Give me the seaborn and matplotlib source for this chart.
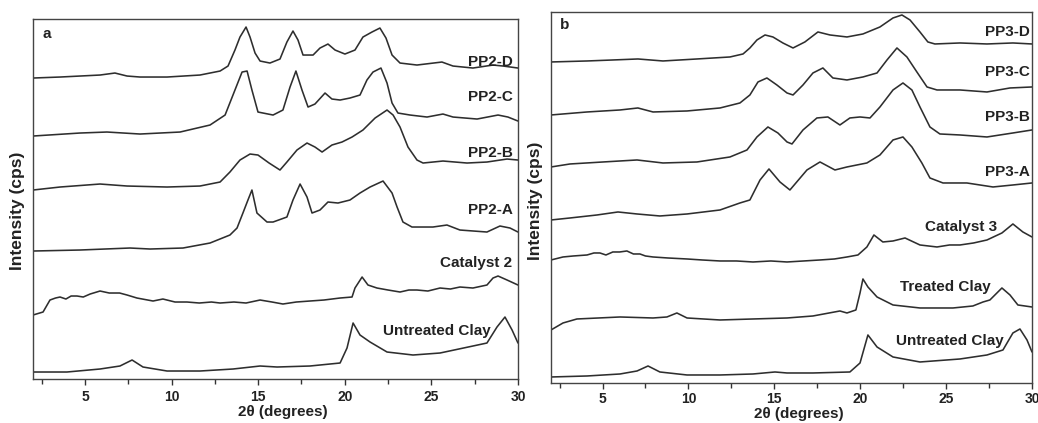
import matplotlib
matplotlib.use("Agg")
import matplotlib.pyplot as plt
import seaborn as sns
from matplotlib.ticker import MultipleLocator

# --- panel a: PP2 series (2theta in degrees, stacked intensity in arbitrary units) ---
pp2d_x = [2.0, 3.56, 5.87, 6.73, 7.43, 8.18, 9.74, 11.64, 12.8, 13.26, 13.66, 13.95, 14.3, 14.53,
          14.82, 15.11, 15.68, 16.26, 16.66, 17.01, 17.3, 17.59, 18.17, 18.57, 19.03, 19.44, 20.01,
          20.59, 21.05, 21.57, 22.03, 22.38, 22.73, 23.19, 24.17, 25.61, 26.25, 27.4, 28.56, 29.14, 30.0]
pp2d_y = [301, 302, 304, 306, 303, 302, 302, 304, 308, 313, 329, 342, 352, 342,
          326, 318, 316, 320, 337, 348, 339, 324, 324, 331, 335, 329, 325,
          329, 342, 347, 351, 341, 324, 316, 314, 317, 313, 311, 314, 313, 311]

pp2c_x = [2.0, 4.71, 6.27, 8.18, 10.49, 12.22, 13.09, 13.66, 14.07, 14.36, 14.64, 14.99, 15.86,
          16.43, 16.84, 17.18, 17.53, 17.88, 18.28, 18.86, 19.26, 19.73, 20.3, 20.88, 21.28, 21.63,
          22.09, 22.44, 22.73, 23.07, 23.77, 24.75, 25.67, 26.25, 27.64, 28.85, 29.42, 30.0]
pp2c_y = [243, 246, 247, 245, 247, 254, 264, 289, 307, 308, 289, 267, 264,
          269, 292, 308, 289, 272, 275, 286, 280, 279, 281, 284, 299, 307,
          311, 296, 276, 266, 264, 262, 265, 262, 260, 264, 262, 258]

pp2b_x = [2.0, 3.56, 5.87, 7.43, 9.74, 11.64, 12.8, 13.37, 13.95, 14.53, 14.99, 15.63, 16.26,
          16.66, 17.24, 17.82, 18.28, 18.69, 19.26, 19.84, 20.42, 21.05, 21.75, 22.44, 22.79,
          23.19, 23.65, 24.17, 24.52, 25.67, 27.06, 28.21, 29.37, 30.0]
pp2b_y = [189, 192, 195, 193, 192, 193, 197, 207, 219, 225, 224, 216, 209,
          217, 229, 236, 232, 227, 234, 237, 242, 249, 261, 269, 264,
          252, 232, 219, 216, 218, 216, 217, 220, 219]

pp2a_x = [2.0, 4.71, 7.6, 8.76, 10.66, 12.22, 13.37, 13.78, 14.12, 14.41, 14.64, 14.93, 15.51,
          15.86, 16.66, 17.01, 17.42, 17.82, 18.11, 18.57, 19.03, 19.61, 20.3, 20.88, 21.46,
          22.21, 22.73, 23.02, 23.36, 23.88, 25.09, 25.9, 26.65, 28.21, 28.96, 29.54, 30.0]
pp2a_y = [128, 129, 131, 130, 131, 136, 144, 151, 166, 179, 189, 166, 157,
          157, 162, 179, 195, 182, 166, 169, 177, 176, 179, 186, 192,
          198, 186, 172, 157, 152, 152, 154, 149, 147, 153, 151, 147]

cat2_x = [2.0, 2.58, 2.98, 3.3, 3.56, 3.9, 4.2, 4.54, 4.9, 5.3, 5.87, 6.4, 7.0, 7.43, 8.0, 8.93,
          9.5, 10.2, 10.89, 11.6, 12.3, 12.8, 13.6, 14.3, 15.11, 15.8, 16.43, 17.2, 17.99, 18.8,
          19.73, 20.42, 20.59, 21.0, 21.34, 21.86, 22.5, 23.19, 23.7, 24.17, 24.8, 25.5, 26.1,
          26.65, 27.4, 28.21, 28.56, 28.85, 29.37, 30.0]
cat2_y = [64, 67, 79, 81, 82, 80, 83, 83, 82, 85, 88, 86, 86, 84, 81, 78,
          80, 77, 77, 76, 77, 76, 77, 76, 79, 77, 75, 77, 78, 79,
          81, 82, 91, 102, 94, 91, 89, 87, 89, 89, 88, 91, 90,
          92, 91, 94, 101, 103, 99, 94]

clay_a_x = [2.0, 3.96, 5.87, 7.02, 7.72, 8.35, 9.74, 11.64, 13.55, 15.11, 16.09, 17.99, 19.73,
            20.13, 20.48, 20.88, 21.46, 22.44, 23.94, 25.5, 27.4, 28.21, 28.79, 29.25, 29.66, 30.0]
clay_a_y = [7, 7, 10, 13, 19, 12, 8, 8, 10, 13, 12, 13, 16,
            31, 56, 44, 37, 27, 24, 26, 33, 36, 52, 62, 49, 36]

# --- panel b: PP3 series ---
pp3d_x = [2.0, 4.1, 5.61, 7.06, 8.52, 10.5, 12.42, 13.18, 13.58, 13.99, 14.46, 14.92, 15.5,
          16.09, 16.78, 17.54, 18.24, 19.23, 20.16, 21.15, 21.91, 22.43, 22.9, 23.48, 23.94,
          24.35, 25.81, 27.38, 28.89, 30.0]
pp3d_y = [321, 322, 323, 324, 322, 324, 326, 329, 335, 343, 348, 346, 340,
          335, 341, 351, 348, 346, 349, 356, 365, 368, 363, 351, 341,
          339, 340, 339, 340, 339]

pp3c_x = [2.0, 4.1, 6.02, 7.06, 7.94, 9.92, 11.84, 13.0, 13.58, 14.05, 14.57, 15.15, 15.74,
          16.09, 16.67, 17.25, 17.83, 18.41, 19.23, 20.16, 20.98, 21.56, 22.14, 22.72, 23.3,
          23.89, 24.47, 25.81, 27.38, 28.72, 30.0]
pp3c_y = [268, 271, 273, 275, 271, 272, 275, 280, 288, 301, 305, 298, 290,
          288, 298, 310, 315, 305, 303, 306, 310, 323, 335, 326, 311,
          296, 293, 293, 291, 295, 296]

pp3b_x = [2.0, 3.11, 5.03, 7.01, 8.52, 10.5, 12.42, 13.41, 13.99, 14.63, 15.21, 15.74, 16.03,
          16.67, 17.48, 18.12, 18.82, 19.4, 19.99, 20.57, 21.15, 21.91, 22.49, 23.01, 23.48,
          24.06, 24.64, 25.81, 27.38, 28.89, 30.0]
pp3b_y = [216, 219, 221, 223, 220, 221, 226, 233, 246, 256, 250, 241, 239,
          253, 265, 266, 258, 265, 266, 265, 276, 293, 300, 293, 276,
          256, 249, 248, 246, 250, 253]

pp3a_x = [2.0, 3.11, 4.68, 5.9, 7.01, 8.34, 9.92, 11.84, 13.0, 13.58, 14.17, 14.69, 15.33,
          15.91, 16.9, 17.66, 18.53, 19.23, 20.39, 21.15, 21.91, 22.49, 23.01, 23.59, 24.06,
          24.82, 26.21, 27.73, 28.89, 30.0]
pp3a_y = [163, 165, 168, 171, 169, 167, 169, 173, 180, 183, 203, 214, 201,
          193, 213, 221, 213, 216, 220, 228, 243, 246, 236, 220, 205,
          200, 200, 196, 198, 200]

cat3_x = [2.0, 2.7, 3.3, 4.1, 4.5, 4.85, 5.2, 5.6, 6.0, 6.42, 6.8, 7.18, 7.5, 7.94, 8.8, 9.92,
          10.8, 11.84, 12.8, 13.76, 14.8, 15.74, 16.7, 17.66, 18.5, 19.23, 19.87, 20.39, 20.8,
          21.32, 21.91, 22.61, 23.48, 24.47, 25.2, 25.81, 26.6, 27.38, 28.25, 28.89, 29.47, 30.0]
cat3_y = [123, 126, 127, 128, 130, 130, 128, 131, 131, 132, 129, 129, 127, 126, 125, 124,
          123, 122, 122, 121, 122, 121, 122, 123, 124, 126, 128, 136, 148,
          141, 142, 145, 138, 136, 138, 138, 140, 143, 150, 159, 151, 146]

treated_x = [2.0, 2.7, 3.51, 6.02, 7.94, 8.75, 9.33, 9.92, 11.84, 13.76, 15.74, 17.25, 18.82,
             19.23, 19.75, 19.99, 20.16, 20.45, 20.98, 21.91, 23.48, 25.4, 26.56, 27.15, 27.55,
             28.25, 28.72, 29.18, 30.0]
treated_y = [53, 60, 64, 66, 65, 66, 70, 65, 63, 64, 65, 67, 72,
             70, 73, 90, 104, 96, 86, 78, 75, 75, 77, 81, 83,
             95, 88, 78, 76]

clay_b_x = [2.0, 4.1, 6.02, 7.01, 7.65, 8.34, 9.92, 11.84, 13.76, 15.04, 15.74, 17.25, 19.4,
            19.99, 20.45, 20.98, 21.91, 23.48, 25.81, 27.38, 28.31, 28.89, 29.3, 29.71, 30.0]
clay_b_y = [6, 7, 9, 12, 17, 11, 8, 8, 9, 11, 10, 10, 11,
            20, 48, 36, 26, 21, 24, 28, 33, 50, 54, 43, 31]

xticks = [5, 10, 15, 20, 25, 30]

sns.set_theme(style="ticks")
plt.rcParams["font.family"] = ["Liberation Sans", "DejaVu Sans"]
plt.rcParams["font.weight"] = "bold"

line_c = "#2e2e2e"
text_c = "#222222"

fig = plt.figure(figsize=(10.38, 4.23), dpi=100)
ax_a = fig.add_axes([0.0318, 0.104, 0.4672, 0.851])
ax_b = fig.add_axes([0.5308, 0.0946, 0.4634, 0.8771])

panel_a = [
    (pp2d_x, pp2d_y, "PP2-D", 29.7, 317),
    (pp2c_x, pp2c_y, "PP2-C", 29.7, 282),
    (pp2b_x, pp2b_y, "PP2-B", 29.7, 226),
    (pp2a_x, pp2a_y, "PP2-A", 29.7, 169),
    (cat2_x, cat2_y, "Catalyst 2", 29.65, 116),
    (clay_a_x, clay_a_y, "Untreated Clay", 28.4, 48),
]
panel_b = [
    (pp3d_x, pp3d_y, "PP3-D", 29.85, 351),
    (pp3c_x, pp3c_y, "PP3-C", 29.85, 311),
    (pp3b_x, pp3b_y, "PP3-B", 29.85, 266),
    (pp3a_x, pp3a_y, "PP3-A", 29.85, 211),
    (cat3_x, cat3_y, "Catalyst 3", 27.95, 156),
    (treated_x, treated_y, "Treated Clay", 27.6, 96),
    (clay_b_x, clay_b_y, "Untreated Clay", 28.35, 42),
]

# axes, series, y top, letter, letter y, xlabel y, ylabel y, tick pad
for ax, series, ytop, letter, lab_y, xl_y, yl_y, tpad in [
    (ax_a, panel_a, 360, "a", 0.958, -0.071, 0.467, 4),
    (ax_b, panel_b, 371, "b", 0.965, -0.065, 0.49, 2.5),
]:
    for xs, ys, name, tx, ty in series:
        sns.lineplot(x=xs, y=ys, ax=ax, color=line_c, linewidth=1.15,
                     sort=False, estimator=None)
        ax.text(tx, ty, name, ha="right", va="center", fontsize=11,
                fontweight="bold", color=text_c)
    ax.set_xlim(2, 30)
    ax.set_ylim(0, ytop)
    ax.set_yticks([])
    ax.set_xticks(xticks)
    ax.xaxis.set_minor_locator(MultipleLocator(2.5))
    ax.tick_params(axis="x", which="major", direction="out", length=4, width=1,
                   pad=tpad, labelsize=10, colors="#333333")
    ax.tick_params(axis="x", which="minor", direction="out", length=3.5, width=1,
                   colors="#333333")
    for lbl in ax.get_xticklabels():
        lbl.set_fontweight("bold")
        lbl.set_color(text_c)
    for sp in ax.spines.values():
        sp.set_visible(True)
        sp.set_color("#444444")
        sp.set_linewidth(1.0)
    ax.set_xlabel("2θ (degrees)", fontsize=11, fontweight="bold", color=text_c)
    ax.set_ylabel("Intensity (cps)", fontsize=12.5, fontweight="bold", color=text_c)
    ax.xaxis.set_label_coords(0.515, xl_y)
    ax.yaxis.set_label_coords(-0.017, yl_y)
    ax.text(0.019, lab_y, letter, transform=ax.transAxes, ha="left", va="center",
            fontsize=11, fontweight="bold", color=text_c)

fig.savefig("out.png", dpi=100, facecolor="white")
